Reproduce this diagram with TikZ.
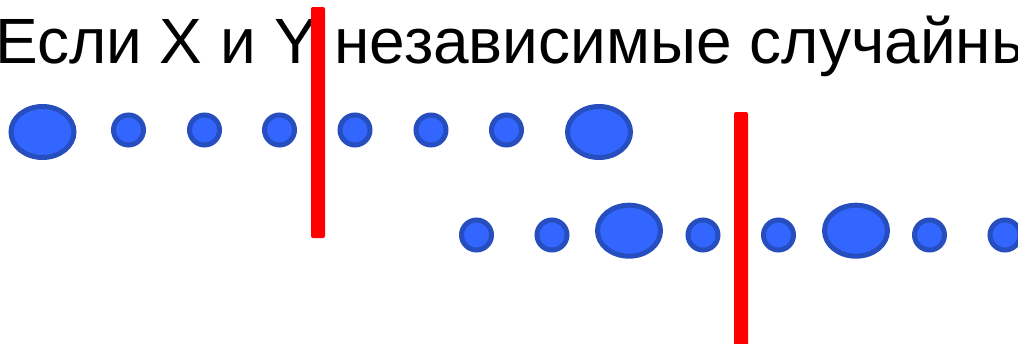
\documentclass[tikz,border=0pt]{standalone}
\usepackage{fontspec}
\setmainfont{Liberation Sans}
\usetikzlibrary{shapes.geometric}
\definecolor{dotfill}{RGB}{51,102,255}
\definecolor{dotline}{RGB}{38,78,190}

\begin{document}
\begin{tikzpicture}[x=1pt, y=-1pt,
        dot/.style = {
            circle,
            draw=dotline,
            fill=dotfill,
            line width=5pt,
            inner sep=0pt,
            minimum size=30pt},
        big dot/.style = {
            ellipse,
            draw=dotline,
            fill=dotfill,
            line width=5pt,
            inner sep=0pt,
            minimum width=63pt,
            minimum height=51pt},
        cut/.style = {fill=red, rounded corners=2pt}
    ]
    \path[use as bounding box, clip] (0,0) rectangle (1018,343);
    \node[anchor=base west, inner sep=0pt, font=\fontsize{64}{77}\selectfont] (title) at (-5,63) {Если X и Y независимые случайны};

    % upper row
    \node[big dot] (x1) at (42.5,132) {};
    \foreach \i/\x in {2/128.5, 3/204.5, 4/279.5, 5/355, 6/431, 7/506.5} {
        \node[dot] (x\i) at (\x,130) {};
    }
    \node[big dot] (x8) at (599,132) {};

    % lower row
    \foreach \i/\x in {1/476.5, 2/552, 4/703, 5/778.5, 7/929.5, 8/1005} {
        \node[dot] (y\i) at (\x,235) {};
    }
    \node[big dot] (y3) at (629,230.7) {};
    \node[big dot] (y6) at (856,230.7) {};

    \fill[cut] (311,7) rectangle (325,238);
    \fill[cut] (734,112) rectangle (748,346);
\end{tikzpicture}
\end{document}
